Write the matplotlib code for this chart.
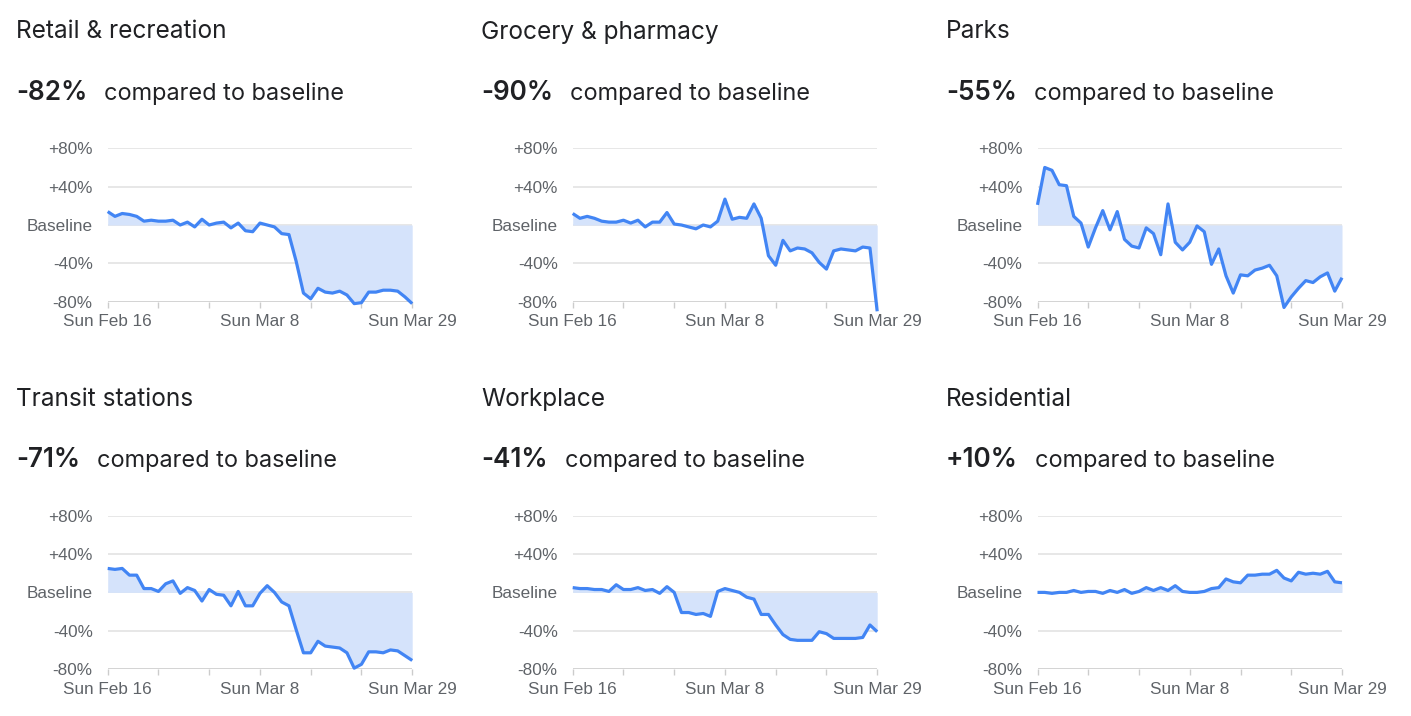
import matplotlib
matplotlib.use('Agg')
import matplotlib.pyplot as plt
import numpy as np

W, H = 1411, 716

categories = ['Retail & recreation', 'Grocery & pharmacy', 'Parks',
              'Transit stations', 'Workplace', 'Residential']
headlines = ['-82%', '-90%', '-55%', '-71%', '-41%', '+10%']

retail = [14, 9, 12, 11, 9, 4, 5, 4, 4, 5, 0, 3, -2, 6, 0, 2, 3, -3, 2, -6, -7,
          2, 0, -2, -9, -10, -38, -71, -77, -66, -70, -71, -69, -73, -82, -81,
          -70, -70, -68, -68, -69, -75, -82]
grocery = [12, 7, 9, 7, 4, 3, 3, 5, 2, 5, -2, 3, 3, 13, 1, 0, -2, -4, 0, -2, 4,
           27, 6, 8, 7, 22, 7, -32, -42, -16, -27, -24, -25, -29, -39, -46,
           -27, -25, -26, -27, -23, -24, -90]
parks = [21, 60, 57, 42, 41, 9, 2, -23, -3, 15, -5, 14, -15, -22, -24, -3, -9,
         -31, 22, -18, -26, -18, -1, -7, -41, -25, -53, -71, -52, -53, -47,
         -45, -42, -53, -86, -75, -66, -58, -60, -54, -50, -69, -55]
transit = [25, 24, 25, 18, 18, 4, 4, 1, 9, 12, -1, 5, 2, -9, 3, -2, -3, -14, 1,
           -14, -14, -1, 7, 0, -10, -14, -39, -63, -63, -51, -56, -57, -58, -63,
           -79, -75, -62, -62, -63, -60, -61, -66, -71]
workplace = [5, 4, 4, 3, 3, 1, 8, 3, 3, 5, 2, 3, -1, 6, 0, -21, -21, -23, -22,
             -25, 1, 4, 2, 0, -5, -7, -23, -23, -34, -44, -49, -50, -50, -50,
             -41, -43, -48, -48, -48, -48, -47, -34, -41]
residential = [0, 0, -1, 0, 0, 2, 0, 1, 1, -1, 2, 0, 3, -1, 1, 5, 2, 5, 2, 7, 1,
               0, 0, 1, 4, 5, 14, 11, 10, 18, 18, 19, 19, 23, 15, 12, 21, 19,
               20, 19, 22, 11, 10]
series = [retail, grocery, parks, transit, workplace, residential]

x_tick_pos = [0, 7, 14, 21, 28, 35, 42]
x_tick_labels = ['Sun Feb 16', '', '', 'Sun Mar 8', '', '', 'Sun Mar 29']
y_tick_pos = [80, 40, 0, -40, -80]
y_tick_labels = ['+80%', '+40%', 'Baseline', '-40%', '-80%']

fig = plt.figure(figsize=(W / 100, H / 100), dpi=100)

col_text_x = [16, 481, 946]
col_ax_left = [107.7, 572.7, 1037.5]
ax_w = 304.5
row_ax_top = [148.3, 515.7]
ax_h = 153.4
row_title_base = [38.5, 405.8]
row_value_base = [100.0, 467.4]

TITLE_FONT = ['Inter', 'DejaVu Sans']
TICK_FONT = ['Liberation Sans', 'DejaVu Sans']
dark = '#202124'
tick_col = '#5f6368'

value_texts = []
for k, (cat, head, vals) in enumerate(zip(categories, headlines, series)):
    r, c = divmod(k, 3)
    left = col_ax_left[c]
    top = row_ax_top[r]
    ax = fig.add_axes([left / W, 1 - (top + ax_h) / H, ax_w / W, ax_h / H])
    x = np.arange(len(vals))
    for v in [80, 40, 0, -40]:
        ax.axhline(v, color='#e5e5e5', lw=1.3, zorder=0)
    ax.axhline(-80, color='#d0d0d0', lw=1.3, zorder=0)
    ax.fill_between(x, vals, 0, color='#d5e3fb', lw=0, clip_on=False, zorder=1)
    ax.plot(x, vals, color='#4285f4', lw=2.3, clip_on=False, zorder=3,
            solid_joinstyle='round', solid_capstyle='butt')
    ax.set_xlim(0, len(vals) - 1)
    ax.set_ylim(-80, 80)
    for s in ax.spines.values():
        s.set_visible(False)
    ax.set_yticks(y_tick_pos)
    ax.set_yticklabels(y_tick_labels, fontsize=12.3, color=tick_col,
                       family=TICK_FONT)
    ax.tick_params(axis='y', length=0, pad=10.8)
    ax.set_xticks(x_tick_pos)
    ax.set_xticklabels(x_tick_labels, fontsize=12.3, color=tick_col,
                       family=TICK_FONT)
    ax.tick_params(axis='x', length=4.5, width=1.0, color='#cccccc', pad=4.5)
    ax.set_facecolor('none')

    tx = col_text_x[c]
    fig.text(tx / W, 1 - row_title_base[r] / H, cat, fontsize=17.6,
             color=dark, family=TITLE_FONT, va='baseline', ha='left')
    t = fig.text(tx / W, 1 - row_value_base[r] / H, head, fontsize=18.8,
                 color=dark, family=TITLE_FONT, weight='semibold',
                 va='baseline', ha='left')
    value_texts.append((t, r))

fig.canvas.draw()
renderer = fig.canvas.get_renderer()
for t, r in value_texts:
    bb = t.get_window_extent(renderer)
    fig.text((bb.x1 + 17) / W, 1 - row_value_base[r] / H,
             'compared to baseline', fontsize=16.9, color=dark,
             family=TITLE_FONT, va='baseline', ha='left')

fig.savefig('out.png', dpi=100)
